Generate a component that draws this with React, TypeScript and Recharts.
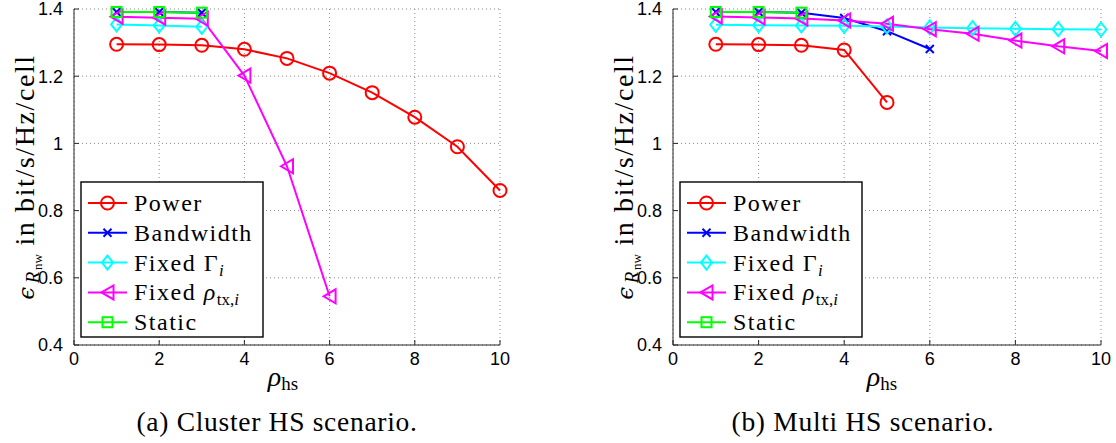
import React from 'react';
import { LineChart, Line, XAxis, YAxis, CartesianGrid } from 'recharts';

// Hotspot density on the x axis
const rhoHs = [1, 2, 3, 4, 5, 6, 7, 8, 9, 10];
const xTicks = [0, 2, 4, 6, 8, 10];
const yTicks = [0.4, 0.6, 0.8, 1.0, 1.2, 1.4];
const yTickLabels = ['0.4', '0.6', '0.8', '1', '1.2', '1.4'];

// (a) Cluster HS scenario
const clusterPower = [1.295, 1.294, 1.292, 1.28, 1.253, 1.209, 1.151, 1.078, 0.99, 0.86];
const clusterBandwidth = [1.391, 1.391, 1.389];
const clusterFixedGamma = [1.354, 1.351, 1.347];
const clusterFixedRho = [1.377, 1.374, 1.371, 1.202, 0.932, 0.545];
const clusterStatic = [1.391, 1.391, 1.389];

// (b) Multi HS scenario
const multiPower = [1.295, 1.294, 1.292, 1.278, 1.122];
const multiBandwidth = [1.391, 1.391, 1.389, 1.373, 1.334, 1.281];
const multiFixedGamma = [1.353, 1.352, 1.351, 1.35, 1.348, 1.345, 1.343, 1.341, 1.34, 1.339];
const multiFixedRho = [1.378, 1.375, 1.372, 1.366, 1.356, 1.34, 1.326, 1.306, 1.289, 1.275];
const multiStatic = [1.391, 1.391, 1.389];

const seriesColors = ['#ff0000', '#0000ff', '#00ffff', '#ff00ff', '#00ff00'];
const seriesShapes = ['circle', 'cross', 'diamond', 'triangle', 'square'];

const SERIF = "'Liberation Serif', 'Times New Roman', serif";
const SANS = "'Liberation Sans', Arial, sans-serif";

const PLOT_TOP = 9;
const PLOT_BOTTOM = 345;
const CHART_H = 443;
const Y_AXIS_W = 60;

const toPoints = (values: number[]) => values.map((y, i) => ({ x: rhoHs[i], y }));

type MarkerProps = { shape: string; color: string; cx: number; cy: number };

function Marker({ shape, color, cx, cy }: MarkerProps) {
  const sw = 2;
  if (shape === 'circle') {
    return <circle cx={cx} cy={cy} r={6.5} fill="none" stroke={color} strokeWidth={sw} />;
  }
  if (shape === 'cross') {
    const d = 4;
    return (
      <g stroke={color} strokeWidth={sw}>
        <line x1={cx - d} y1={cy - d} x2={cx + d} y2={cy + d} />
        <line x1={cx - d} y1={cy + d} x2={cx + d} y2={cy - d} />
      </g>
    );
  }
  if (shape === 'diamond') {
    const w = 5.5;
    const h = 7;
    return (
      <polygon
        points={`${cx},${cy - h} ${cx + w},${cy} ${cx},${cy + h} ${cx - w},${cy}`}
        fill="none"
        stroke={color}
        strokeWidth={sw}
      />
    );
  }
  if (shape === 'triangle') {
    const w = 6;
    const h = 7;
    return (
      <polygon
        points={`${cx - w},${cy} ${cx + w},${cy - h} ${cx + w},${cy + h}`}
        fill="none"
        stroke={color}
        strokeWidth={sw}
      />
    );
  }
  const s = 5;
  return <rect x={cx - s} y={cy - s} width={2 * s} height={2 * s} fill="none" stroke={color} strokeWidth={sw} />;
}

function YTick(props: any) {
  const { x, y, index } = props;
  return (
    <g>
      <line x1={x} y1={y} x2={x + 5} y2={y} stroke="#262626" strokeWidth={1} />
      <text x={x - 11} y={y} dy="0.36em" textAnchor="end" fontFamily={SANS} fontSize={18} fill="#000">
        {yTickLabels[index]}
      </text>
    </g>
  );
}

function XTick(props: any) {
  const { x, y, payload } = props;
  return (
    <g>
      <line x1={x} y1={y} x2={x} y2={y - 5} stroke="#262626" strokeWidth={1} />
      <text x={x} y={y + 7} dy="0.72em" textAnchor="middle" fontFamily={SANS} fontSize={18} fill="#000">
        {String(payload.value)}
      </text>
    </g>
  );
}

type PanelProps = {
  plotLeft: number;
  plotRight: number;
  series: number[][];
};

function Panel({ plotLeft, plotRight, series }: PanelProps) {
  const rightPad = 30;
  const marginLeft = 14;
  const width = plotRight - plotLeft + Y_AXIS_W + marginLeft + rightPad;
  return (
    <div style={{ position: 'absolute', left: plotLeft - Y_AXIS_W - marginLeft, top: 0 }}>
      <LineChart
        width={width}
        height={CHART_H}
        margin={{ top: PLOT_TOP, right: rightPad, bottom: CHART_H - PLOT_BOTTOM - 30, left: marginLeft }}
      >
        <CartesianGrid stroke="#8a8a8a" strokeDasharray="1 3" strokeWidth={1} />
        <XAxis
          type="number"
          dataKey="x"
          domain={[0, 10]}
          ticks={xTicks}
          interval={0}
          height={30}
          tickSize={0}
          tickMargin={0}
          tickLine={false}
          axisLine={{ stroke: '#262626', strokeWidth: 1 }}
          tick={<XTick />}
        />
        <YAxis
          type="number"
          dataKey="y"
          domain={[0.4, 1.4]}
          ticks={yTicks}
          interval={0}
          width={Y_AXIS_W}
          tickSize={0}
          tickMargin={0}
          tickLine={false}
          axisLine={{ stroke: '#262626', strokeWidth: 1 }}
          tick={<YTick />}
        />
        {series.map((values, si) => (
          <Line
            key={si}
            data={toPoints(values)}
            dataKey="y"
            type="linear"
            stroke={seriesColors[si]}
            strokeWidth={2}
            isAnimationActive={false}
            dot={(p: any) => (
              <Marker key={`m-${si}-${p.index}`} shape={seriesShapes[si]} color={seriesColors[si]} cx={p.cx} cy={p.cy} />
            )}
            activeDot={false}
          />
        ))}
      </LineChart>
    </div>
  );
}

function LegendLabel({ index, x, y }: { index: number; x: number; y: number }) {
  const common = { x, y, fontFamily: SERIF, fontSize: 24, letterSpacing: 1.5, fill: '#000' };
  if (index === 0) return <text {...common}>Power</text>;
  if (index === 1) return <text {...common}>Bandwidth</text>;
  if (index === 2)
    return (
      <text {...common}>
        Fixed Γ
        <tspan fontStyle="italic" fontSize={17} dy={5}>
          i
        </tspan>
      </text>
    );
  if (index === 3)
    return (
      <text {...common}>
        Fixed <tspan fontStyle="italic">ρ</tspan>
        <tspan fontSize={17} dy={5} letterSpacing={0}>
          tx,
        </tspan>
        <tspan fontSize={17} fontStyle="italic">
          i
        </tspan>
      </text>
    );
  return <text {...common}>Static</text>;
}

function LegendBox({ left, top }: { left: number; top: number }) {
  return (
    <g>
      <rect x={left} y={top} width={182} height={155} fill="#fff" stroke="#000" strokeWidth={1.4} />
      {seriesColors.map((c, i) => {
        const cy = top + 21 + i * 29.8;
        return (
          <g key={i}>
            <line x1={left + 7} y1={cy} x2={left + 46} y2={cy} stroke={c} strokeWidth={2} />
            <Marker shape={seriesShapes[i]} color={c} cx={left + 26.5} cy={cy} />
            <LegendLabel index={i} x={left + 53} y={cy + 8} />
          </g>
        );
      })}
    </g>
  );
}

function YLabel({ x, cy }: { x: number; cy: number }) {
  return (
    <text
      transform={`translate(${x},${cy}) rotate(-90)`}
      textAnchor="middle"
      fontFamily={SERIF}
      fontSize={28}
      letterSpacing={1.6}
      fill="#000"
    >
      <tspan fontStyle="italic" fontFamily="'DejaVu Serif', serif" fontSize={23}>
        ϵ
      </tspan>
      <tspan fontStyle="italic" fontSize={19} dx={2} dy={5}>
        R
      </tspan>
      <tspan fontSize={13} dy={3} letterSpacing={0}>
        nw
      </tspan>
      <tspan dy={-8}> in bit/s/Hz/cell</tspan>
    </text>
  );
}

function XLabel({ cx }: { cx: number }) {
  return (
    <text x={cx} y={386} textAnchor="middle" fontFamily={SERIF} fill="#000">
      <tspan fontStyle="italic" fontSize={28}>
        ρ
      </tspan>
      <tspan fontSize={19} dy={4}>
        hs
      </tspan>
    </text>
  );
}

function Caption({ cx, text }: { cx: number; text: string }) {
  return (
    <text x={cx} y={431} textAnchor="middle" fontFamily={SERIF} fontSize={27.5} letterSpacing={0.7} fill="#000">
      {text}
    </text>
  );
}

export default function App() {
  const cluster = [clusterPower, clusterBandwidth, clusterFixedGamma, clusterFixedRho, clusterStatic];
  const multi = [multiPower, multiBandwidth, multiFixedGamma, multiFixedRho, multiStatic];
  return (
    <div style={{ position: 'absolute', left: 0, top: 0, width: 1116, height: 443, background: '#fff', overflow: 'hidden' }}>
      <Panel plotLeft={74} plotRight={500} series={cluster} />
      <Panel plotLeft={673} plotRight={1101} series={multi} />
      <svg width={1116} height={443} style={{ position: 'absolute', left: 0, top: 0, pointerEvents: 'none' }}>
        <LegendBox left={81} top={182} />
        <LegendBox left={680} top={182} />
        <YLabel x={34} cy={177} />
        <YLabel x={633} cy={177} />
        <XLabel cx={283} />
        <XLabel cx={882} />
        <Caption cx={277} text="(a) Cluster HS scenario." />
        <Caption cx={863} text="(b) Multi HS scenario." />
      </svg>
    </div>
  );
}
